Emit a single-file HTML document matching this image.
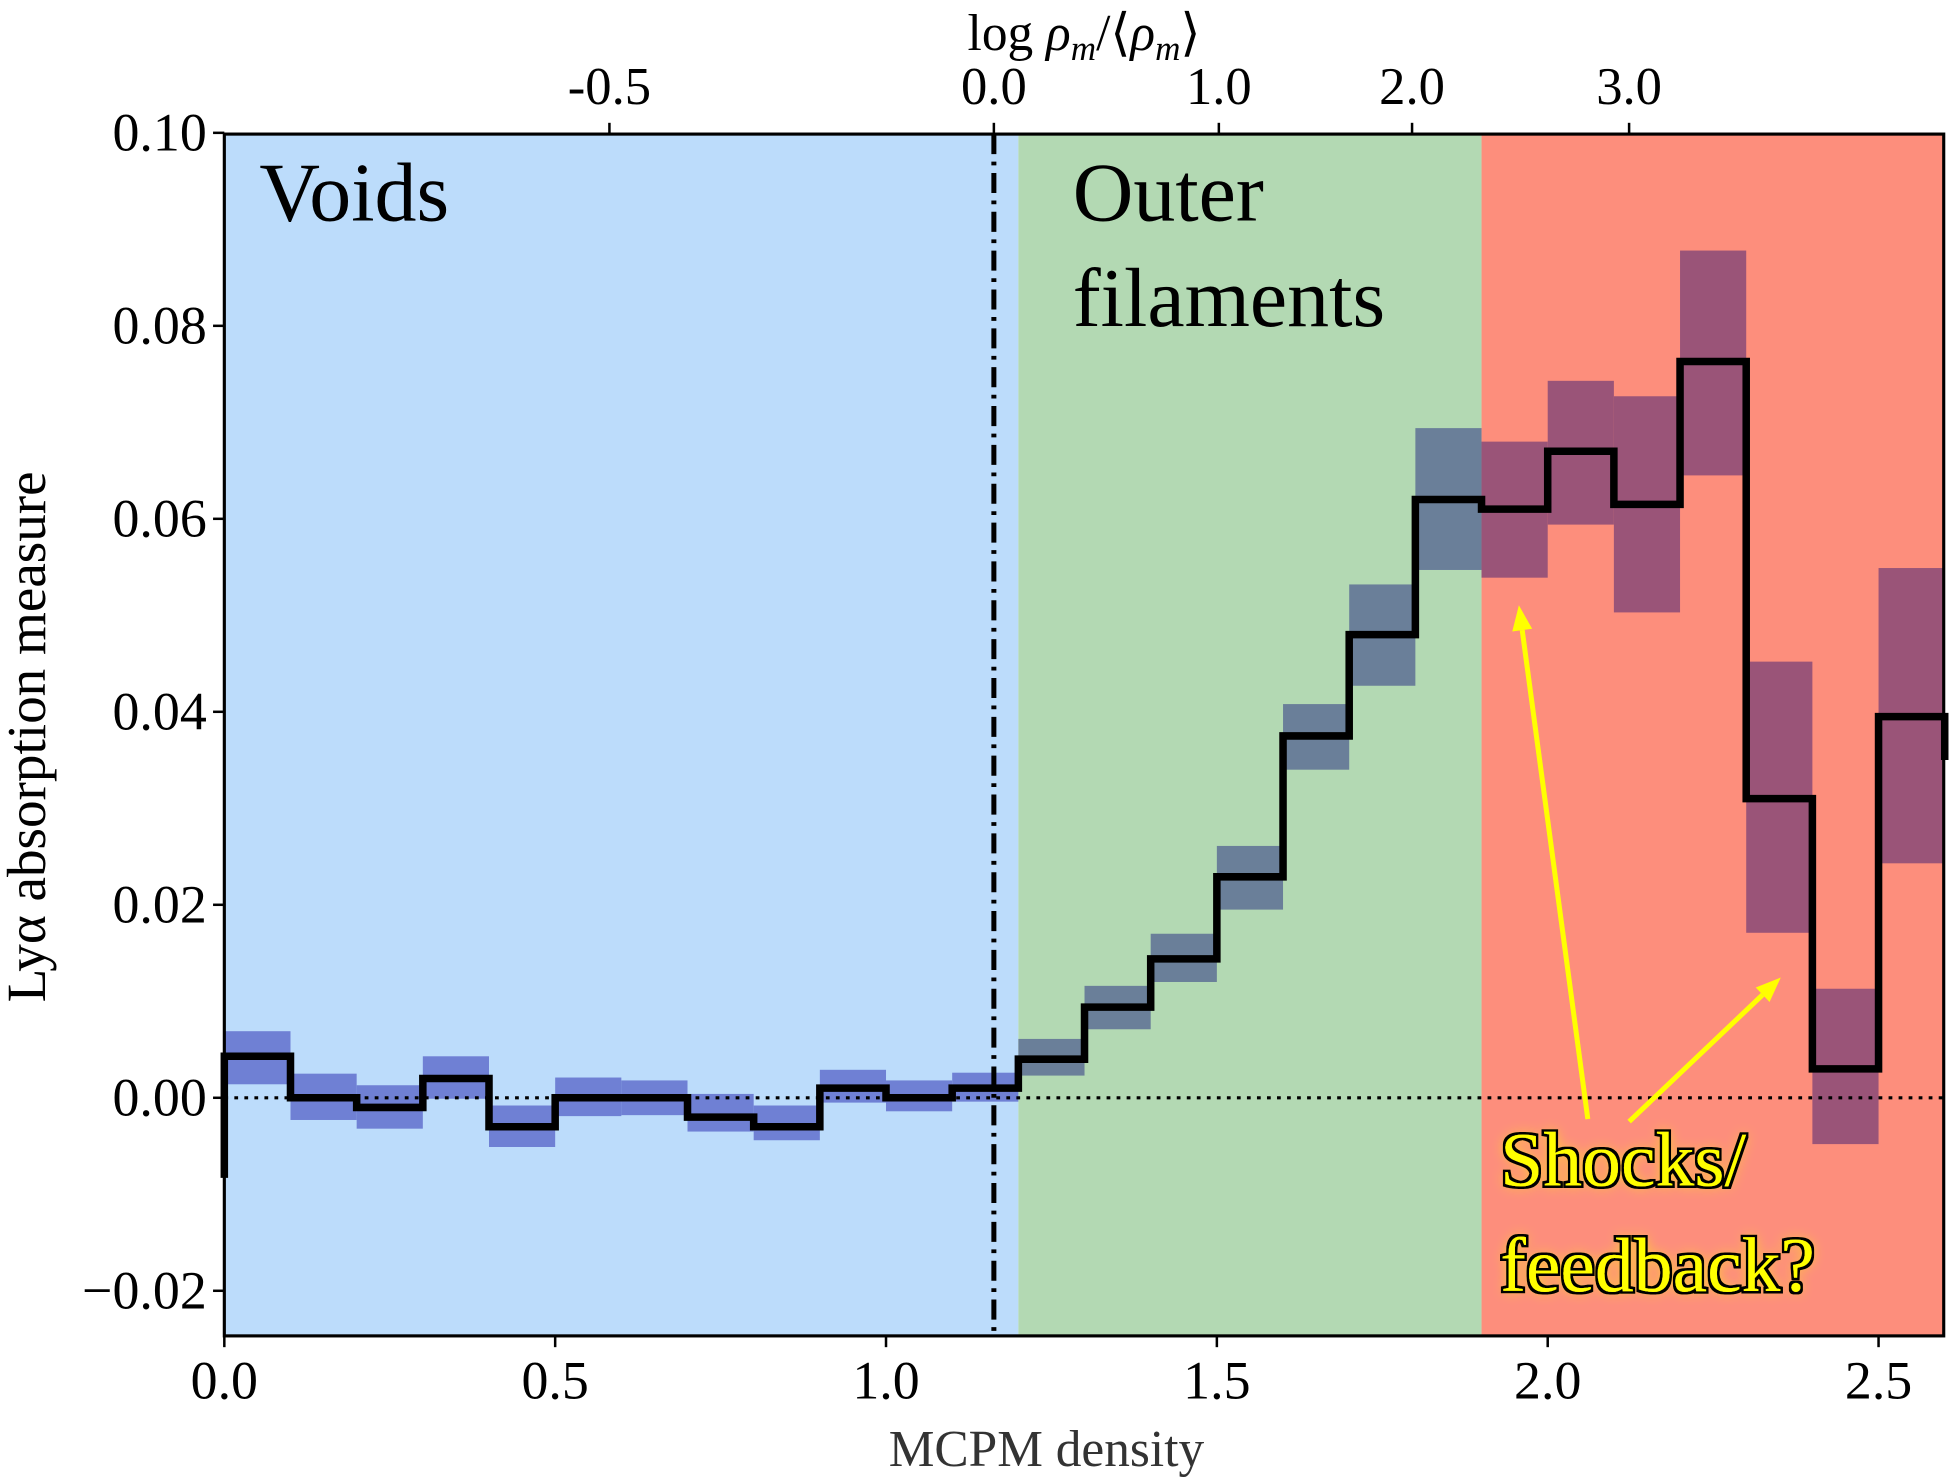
<!DOCTYPE html>
<html><head><meta charset="utf-8"><style>
html,body{margin:0;padding:0;background:#fff}
svg{display:block}
text{font-family:"Liberation Serif",serif}
</style></head><body>
<svg id="chart" width="1955" height="1478" viewBox="0 0 1560 1179.4" preserveAspectRatio="none" xmlns="http://www.w3.org/2000/svg">
<defs><filter id="glow" x="-20%" y="-30%" width="140%" height="160%"><feGaussianBlur in="SourceAlpha" stdDeviation="5" result="b"/><feFlood flood-color="#ffff00" flood-opacity="0.8"/><feComposite in2="b" operator="in" result="yg"/><feMorphology in="SourceAlpha" operator="dilate" radius="2" result="d"/><feFlood flood-color="#000"/><feComposite in2="d" operator="in" result="o"/><feMerge><feMergeNode in="yg"/><feMergeNode in="o"/><feMergeNode in="SourceGraphic"/></feMerge></filter></defs>
<g id="regions"></g>
<g id="bands"></g>
<g id="lines"></g>
<g id="axes"></g>
</svg>
<script>
const binStarts=[0,0.1,0.2,0.3,0.4,0.5,0.6,0.7,0.8,0.9,1.0,1.1,1.2,1.3,1.4,1.5,1.6,1.7,1.8,1.9,2.0,2.1,2.2,2.3,2.4,2.5];
const values=[0.0043,0,-0.001,0.002,-0.003,0,0,-0.002,-0.003,0.001,0,0.001,0.004,0.0094,0.0144,0.0229,0.0375,0.048,0.062,0.061,0.067,0.0615,0.0763,0.031,0.003,0.0395];
const bandHigh=[0.0069,0.0025,0.0013,0.0043,-0.0008,0.0021,0.0018,0.0004,-0.0008,0.0029,0.0018,0.0026,0.0061,0.0116,0.017,0.0261,0.0408,0.0532,0.0694,0.068,0.0743,0.0727,0.0878,0.0452,0.0113,0.0549];
const bandLow=[0.0014,-0.0023,-0.0032,-0.0001,-0.0051,-0.0019,-0.0018,-0.0035,-0.0044,-0.0005,-0.0014,-0.0004,0.0023,0.0071,0.012,0.0195,0.034,0.0427,0.0547,0.0539,0.0594,0.0503,0.0645,0.0171,-0.0048,0.0243];
const startValue=-0.0083, endValue=0.035;
const xTicks=[0,0.5,1.0,1.5,2.0,2.5];
const xTickLabels=["0.0","0.5","1.0","1.5","2.0","2.5"];
const yTicks=[-0.02,0,0.02,0.04,0.06,0.08,0.10];
const yTickLabels=["\u22120.02","0.00","0.02","0.04","0.06","0.08","0.10"];
const topTickPos=[1.163-0.581,1.163,1.503,1.795,2.123];
const topTickLabels=["-0.5","0.0","1.0","2.0","3.0"];
const regionEdges=[0,1.2,1.9,2.6];
const regionNames=["voids-region","outer-filaments-region","shocks-region"];
const regionColors=["#bcdcfb","#b3d9b3","#fd8e7c"];
const bandColors=["#6f80d4","#6a7f99","#9a5478"];
const L=179,R=1551,T=107,B=1066;
const xs=v=>L+v*528, ys=v=>876-v*7700;
const NS="http://www.w3.org/2000/svg";
function mk(tag,parent,attrs){const e=document.createElementNS(NS,tag);for(const k in attrs)e.setAttribute(k,attrs[k]);parent.appendChild(e);return e;}
const gR=document.getElementById('regions'),gB=document.getElementById('bands'),gL=document.getElementById('lines'),gA=document.getElementById('axes');
for(let i=0;i<3;i++){const r=mk('rect',gR,{x:xs(regionEdges[i]),y:T,width:xs(regionEdges[i+1])-xs(regionEdges[i]),height:B-T,fill:regionColors[i]});

}
binStarts.forEach((s,i)=>{const c=s<1.195?0:(s<1.895?1:2);
const r=mk('rect',gB,{x:xs(s),y:ys(bandHigh[i]),width:xs(s+0.1)-xs(s),height:ys(bandLow[i])-ys(bandHigh[i]),fill:bandColors[c]});

});
const z=mk('line',gL,{x1:L,x2:R,y1:ys(0),y2:ys(0),stroke:'#000','stroke-width':2.5,'stroke-dasharray':'3,5'});


const dv=mk('line',gL,{x1:xs(1.163),x2:xs(1.163),y1:T,y2:B,stroke:'#000','stroke-width':4,'stroke-dasharray':'16,6,3,6'});


let d=`M${xs(0)},${ys(startValue)}`;
binStarts.forEach((s,i)=>{d+=` L${xs(s)},${ys(values[i])} L${xs(s+0.1)},${ys(values[i])}`;});
d+=` L${xs(2.6)},${ys(endValue)}`;
const st=mk('path',gL,{d:d,fill:'none',stroke:'#000','stroke-width':6,'stroke-linejoin':'miter'});


const fr=mk('rect',gA,{x:L,y:T,width:R-L,height:B-T,fill:'none',stroke:'#000','stroke-width':2.5});


xTicks.forEach((v,i)=>{mk('line',gA,{x1:xs(v),x2:xs(v),y1:B,y2:B+9,stroke:'#000','stroke-width':2});
const t=mk('text',gA,{x:xs(v),y:B+50,'font-size':43,'text-anchor':'middle'});t.textContent=xTickLabels[i];

});
yTicks.forEach((v,i)=>{mk('line',gA,{x1:L-9,x2:L,y1:ys(v),y2:ys(v),stroke:'#000','stroke-width':2});
const t=mk('text',gA,{x:L-14,y:ys(v)+14,'font-size':43,'text-anchor':'end'});t.textContent=yTickLabels[i];

});
topTickPos.forEach((v,i)=>{mk('line',gA,{x1:xs(v),x2:xs(v),y1:T-9,y2:T,stroke:'#000','stroke-width':2});
const t=mk('text',gA,{x:xs(v),y:T-24,'font-size':42,'text-anchor':'middle'});t.textContent=topTickLabels[i];

});
</script>
<script>
(function(){
const svg=document.getElementById('chart');const NS="http://www.w3.org/2000/svg";
function txt(x,y,s,size,name,extra){const t=document.createElementNS(NS,'text');t.setAttribute('x',x);t.setAttribute('y',y);t.setAttribute('font-size',size);
for(const k in (extra||{}))t.setAttribute(k,extra[k]);t.innerHTML=s;svg.appendChild(t);

return t;}
txt(865,40,'log <tspan font-style="italic">ρ<tspan font-size="28" dy="8">m</tspan></tspan><tspan dy="-8">/⟨</tspan><tspan font-style="italic">ρ<tspan font-size="28" dy="8">m</tspan></tspan><tspan dy="-8">⟩</tspan>',41,'top-axis-title',{'text-anchor':'middle'});
txt(835,1170,'MCPM density',41,'x-axis-title',{'text-anchor':'middle',fill:'#333'});
txt(0,0,'Lyα absorption measure',44,'y-axis-title',{'text-anchor':'middle',transform:'translate(36,588) rotate(-90)'});
txt(207,176,'Voids',67,'voids-label');
txt(856,176,'Outer',67,'outer-label');
txt(856,260,'filaments',67,'filaments-label');
txt(1197,946,'Shocks/',62,'shocks-label',{fill:'#ffff00',filter:'url(#glow)'});
txt(1197,1030,'feedback?',62,'feedback-label',{fill:'#ffff00',filter:'url(#glow)'});
function arrow(x1,y1,x2,y2,name){const g=document.createElementNS(NS,'g');svg.appendChild(g);


const a=Math.atan2(y2-y1,x2-x1),h=20,w=8;
const bx=x2-h*Math.cos(a),by=y2-h*Math.sin(a);
const l=document.createElementNS(NS,'line');l.setAttribute('x1',x1);l.setAttribute('y1',y1);l.setAttribute('x2',bx);l.setAttribute('y2',by);l.setAttribute('stroke','#ffff00');l.setAttribute('stroke-width',4);g.appendChild(l);
const p=document.createElementNS(NS,'polygon');p.setAttribute('points',`${x2},${y2} ${bx+w*Math.sin(a)},${by-w*Math.cos(a)} ${bx-w*Math.sin(a)},${by+w*Math.cos(a)}`);p.setAttribute('fill','#ffff00');g.appendChild(p);}
arrow(1267,893,1212,483,'shock-arrow-1');
arrow(1300,895,1421,780,'shock-arrow-2');
})();
</script>
</body></html>
